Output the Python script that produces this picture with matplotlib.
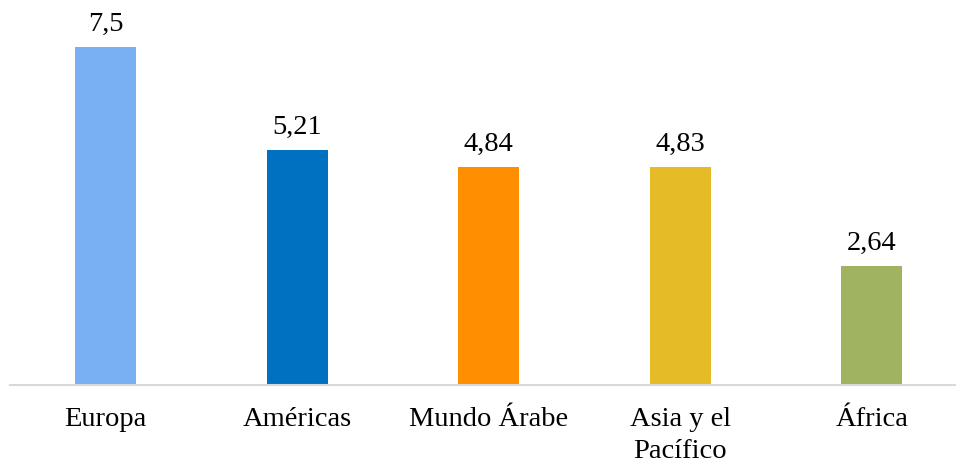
import matplotlib
matplotlib.use("Agg")
import matplotlib.pyplot as plt

# data
regions = ["Europa", "Américas", "Mundo Árabe", "Asia y el\nPacífico", "África"]
values = [7.5, 5.21, 4.84, 4.83, 2.64]
value_labels = ["7,5", "5,21", "4,84", "4,83", "2,64"]
colors = ["#79AFF3", "#0070C0", "#FF8F00", "#E6BB28", "#9FB360"]

plt.rcParams['font.family'] = ['Liberation Serif', 'DejaVu Serif']

W, H = 956, 463
fig = plt.figure(figsize=(W / 100, H / 100), dpi=100)
# axis line at y=385px, bars start at x=10px
ax = fig.add_axes([10 / W, (H - 385) / H, (W - 10) / W, 385 / H])

x = list(range(len(regions)))
ax.bar(x, values, width=0.32, color=colors)

px_per_unit = 338 / 7.5
ax.set_ylim(0, 385 / px_per_unit)
ax.set_xlim(-0.5, (W - 10) / 191.5 - 0.5)

for xi, v, lab in zip(x, values, value_labels):
    ax.annotate(lab, (xi, v), xytext=(0, 7.5), textcoords="offset points",
                ha="center", va="bottom", fontsize=20.5)

ax.set_xticks(x)
ax.set_xticklabels(regions, fontsize=20.5, linespacing=1.38)
ax.tick_params(axis="x", length=0, pad=16)
ax.set_yticks([])

for s in ["top", "right", "left"]:
    ax.spines[s].set_visible(False)
ax.spines["bottom"].set_color("#D9D9D9")
ax.spines["bottom"].set_linewidth(1.5)

fig.savefig("out.png", dpi=100)
